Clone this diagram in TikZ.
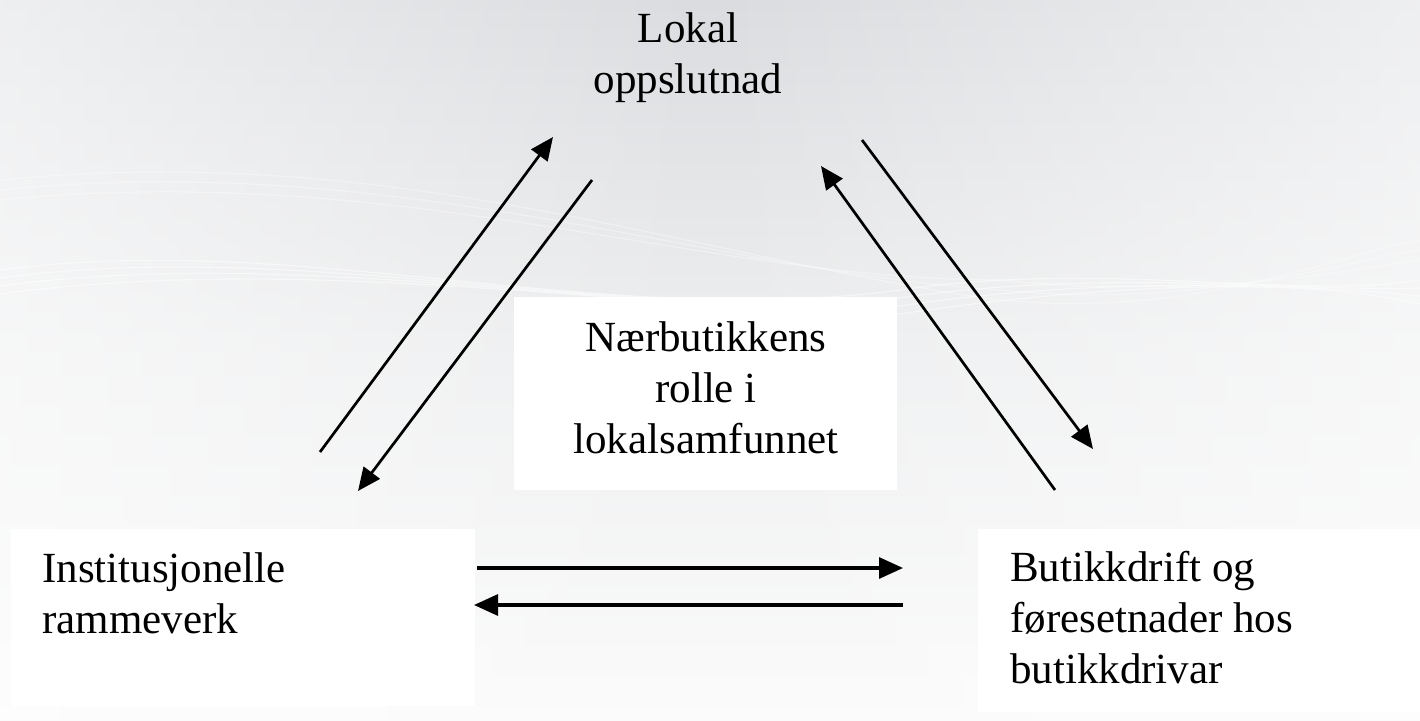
\documentclass[tikz,border=0pt]{standalone}
\usepackage{fontspec}
\setmainfont{Liberation Serif}
\usetikzlibrary{arrows.meta,fadings}
\definecolor{bgtop}{HTML}{DADCDF}
\definecolor{bgmid}{HTML}{EEEFF0}
\definecolor{bgbot}{HTML}{FBFBFB}
\tikzfading[name=edgefade, left color=transparent!0, right color=transparent!0, middle color=transparent!100]
\begin{document}
\begin{tikzpicture}[x=1pt,y=-1pt,
  lbl/.style={inner sep=0pt, font=\fontsize{43}{51}\selectfont},
  whitebox/.style={fill=white, draw=none},
  conn/.style={line width=2.7pt, -{Triangle[length=23pt,width=20pt]}},
  hconn/.style={line width=3.2pt, -{Triangle[length=24pt,width=21pt]}},
  swirl/.style={white, opacity=0.5, line width=1.2pt}]
\useasboundingbox (0,0) rectangle (1420,720);
% background
\shade[top color=bgtop, bottom color=bgbot, middle color=bgmid] (0,0) rectangle (1420,720);
\fill[white, opacity=0.55, path fading=edgefade] (0,0) rectangle (1420,720);
\foreach \d in {0,8,16,24} {
  \draw[swirl] (0,270+\d) .. controls (300,230+\d) and (600,330-\d) .. (900,290+\d) .. controls (1100,260+\d) and (1300,300-\d) .. (1420,280+\d);
}
\foreach \d in {0,10,20} {
  \draw[swirl, opacity=0.35] (0,180+\d) .. controls (400,140+\d) and (700,260+\d) .. (1000,300-\d) .. controls (1200,320-\d) and (1350,250+\d) .. (1420,240+\d);
}
% boxes
\fill[whitebox] (514,297) rectangle (897,490);
\fill[whitebox] (11,529) rectangle (475,706);
\fill[whitebox] (978,529) rectangle (1420,712);
% labels
\node[lbl, anchor=north, align=center] (top) at (688,12) {Lokal\\oppslutnad};
\node[lbl, anchor=north, align=center] (mid) at (706,321) {Nærbutikkens\\rolle i\\lokalsamfunnet};
\node[lbl, anchor=north west, align=left] (left) at (42,552) {Institusjonelle\\rammeverk};
\node[lbl, anchor=north west, align=left] (right) at (1010,551) {Butikkdrift og\\føresetnader hos\\butikkdrivar};
% arrow endpoints
\coordinate (a1s) at (320,452); \coordinate (a1e) at (553,137);
\coordinate (a2s) at (592,180); \coordinate (a2e) at (358,491);
\coordinate (a3s) at (862,140); \coordinate (a3e) at (1093,449);
\coordinate (a4s) at (1055,490); \coordinate (a4e) at (821,166);
\coordinate (a5s) at (477,568); \coordinate (a5e) at (903,568);
\coordinate (a6s) at (903,605); \coordinate (a6e) at (474,605);
\draw[conn] (a1s) -- (a1e);
\draw[conn] (a2s) -- (a2e);
\draw[conn] (a3s) -- (a3e);
\draw[conn] (a4s) -- (a4e);
\draw[hconn] (a5s) -- (a5e);
\draw[hconn] (a6s) -- (a6e);
\end{tikzpicture}
\end{document}
